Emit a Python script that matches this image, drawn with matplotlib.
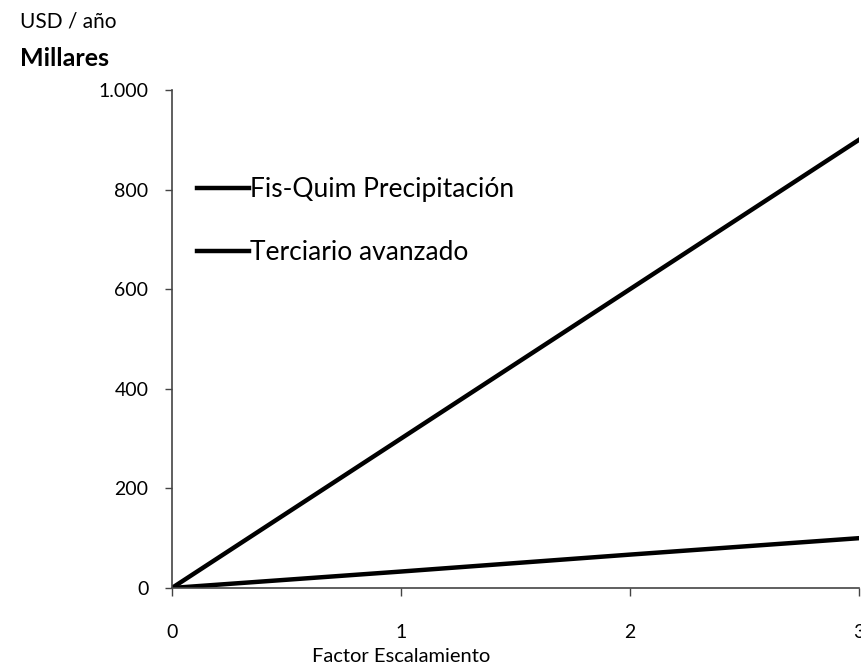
import matplotlib
matplotlib.use("Agg")
import matplotlib.pyplot as plt
from matplotlib.ticker import FuncFormatter

plt.rcParams['font.family'] = ['Lato', 'DejaVu Sans']

# data (USD / año, millares)
factor = [0, 1, 2, 3]
fis_quim = [0, 300, 600, 900]
terciario = [0, 33, 67, 100]
labels = ["Fis-Quim Precipitación", "Terciario avanzado"]
yticks = [0, 200, 400, 600, 800, 1000]
xticks = [0, 1, 2, 3]

fig = plt.figure(figsize=(8.62, 6.68), dpi=100)
ax = fig.add_axes([0.1995, 0.1198, 0.797, 0.7455])

ax.plot(factor, fis_quim, color='black', lw=3.2, label=labels[0])
ax.plot(factor, terciario, color='black', lw=3.2, label=labels[1])

ax.set_xlim(0, 3)
ax.set_ylim(0, 1000)
ax.set_xticks(xticks)
ax.set_yticks(yticks)
ax.yaxis.set_major_formatter(
    FuncFormatter(lambda v, p: "{:,.0f}".format(v).replace(",", ".")))

for side in ['top', 'right']:
    ax.spines[side].set_visible(False)
for side in ['left', 'bottom']:
    ax.spines[side].set_color('#444444')
    ax.spines[side].set_linewidth(1.2)

ax.tick_params(axis='y', length=5, width=1, pad=12, labelsize=14,
               colors='#444444', labelcolor='black')
ax.tick_params(axis='x', length=6, width=1, pad=20, labelsize=14,
               colors='#444444', labelcolor='black')

ax.set_xlabel("Factor Escalamiento", fontsize=14.5)
ax.xaxis.set_label_coords(0.333, -0.121)

fig.text(0.023, 0.968, "USD / año", fontsize=15, va='center', ha='left')
fig.text(0.023, 0.913, "Millares", fontsize=18, fontweight='bold',
         va='center', ha='left')

ax.legend(loc='upper left', bbox_to_anchor=(0.036, 0.825), frameon=False,
          fontsize=19, handlelength=2.0, handletextpad=0.02,
          labelspacing=1.45, borderpad=0, borderaxespad=0)

fig.savefig("out.png", dpi=100)
